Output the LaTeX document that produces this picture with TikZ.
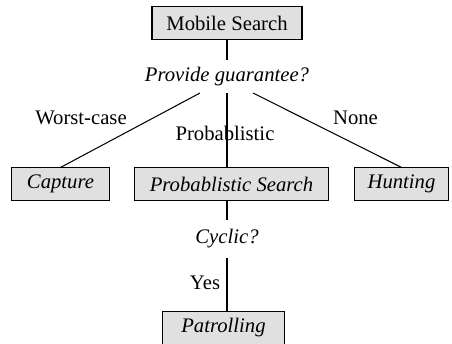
\documentclass[tikz,border=0pt]{standalone}
\usepackage{fontspec}
\setmainfont{Liberation Serif}
\definecolor{boxgray}{gray}{0.88}

\begin{document}
\begin{tikzpicture}[x=0.58pt, y=-0.58pt, line width=0.6pt,
    every node/.style={font=\fontsize{12}{14}\selectfont},
    box/.style={draw, fill=boxgray, minimum height=18.6pt, inner sep=0pt},
    ques/.style={inner sep=0pt}]
    \useasboundingbox (0,0) rectangle (452,343);

    % boxes
    \node[box, minimum width=87pt] (ms) at (227,23) {Mobile Search};
    \node[box, minimum width=56.3pt] (cap) at (60.5,184) {\itshape Capture};
    \node[box, minimum width=112pt] (ps) at (231.5,184) {\itshape Probablistic Search};
    \node[box, minimum width=54pt] (hunt) at (401.5,184) {\itshape Hunting};
    \node[box, minimum width=71.3pt] (pat) at (223.5,328) {\itshape Patrolling};

    % questions
    \node[ques, minimum height=19.1pt] (pg) at (227,76.5) {\itshape Provide guarantee?};
    \node[ques, minimum height=22pt] (cyc) at (227,239) {\itshape Cyclic?};

    \coordinate (pgl) at (200,93);
    \coordinate (pgr) at (253,93);

    \draw (ms.south) -- (pg.north);
    \draw (pgl) -- (cap.north);
    \draw (pg.south) -- (pg.south |- ps.north);
    \draw (pgr) -- (hunt.north);
    \draw (cyc.north) -- (cyc.north |- ps.south);
    \draw (cyc.south) -- (cyc.south |- pat.north);

    % labels
    \node (wc) at (81,118) {Worst-case};
    \node (pr) at (225,133) {Probablistic};
    \node (no) at (355.5,118) {None};
    \node (yes) at (205,283) {Yes};
\end{tikzpicture}
\end{document}
